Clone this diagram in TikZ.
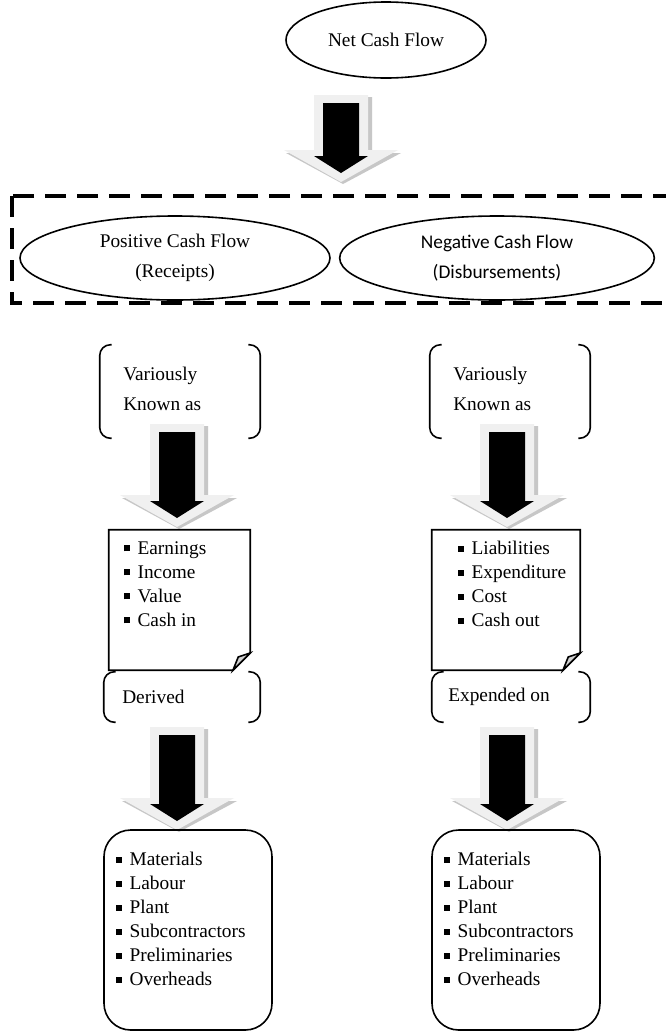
\documentclass[tikz,border=0pt]{standalone}
\usepackage{fontspec}
\setmainfont{Liberation Serif}
\newfontfamily\calfont{Carlito}
\usetikzlibrary{shapes.geometric}
\newcommand{\fs}{\fontsize{14.5}{18}\selectfont}
\newcommand{\bul}{\raisebox{2.2pt}{\rule{4.5pt}{4.5pt}}\hspace{5.5pt}}
\newcommand{\cfarrow}[4]{%
  \coordinate (#4-top) at (#1,#2);
  \coordinate (#4-tip) at (#1,#3);
  \fill[arrshadow] (#1-23,#2+2) -- (#1+31,#2+2) -- (#1+31,#3-29) -- (#1+60,#3-29) -- (#1+2,#3+2) -- (#1-55,#3-29) -- (#1-23,#3-29) -- cycle;
  \fill[arrlight] (#1-27,#2) -- (#1+27,#2) -- (#1+27,#3-32) -- (#1+57,#3-32) -- (#1,#3) -- (#1-57,#3-32) -- (#1-27,#3-32) -- cycle;
  \fill[black] (#1-18,#2+8) -- (#1+18,#2+8) -- (#1+18,#3-26) -- (#1+27,#3-26) -- (#1,#3-9) -- (#1-27,#3-26) -- (#1-18,#3-26) -- cycle;
}
\newcommand{\brk}[1]{%
  \draw[brkline] ([xshift=9pt]#1.north west) -- (#1.north west) -- (#1.south west) -- ([xshift=9pt]#1.south west);
  \draw[brkline] ([xshift=-9pt]#1.north east) -- (#1.north east) -- (#1.south east) -- ([xshift=-9pt]#1.south east);
}
\newcommand{\notebox}[1]{%
  \draw[notel] (#1.north west) -- (#1.north east) -- ([yshift=13pt]#1.south east) -- ([xshift=-13pt]#1.south east) -- (#1.south west) -- cycle;
  \filldraw[notel, fill=gray!35] ([yshift=13pt]#1.south east) -- ([xshift=-9pt,yshift=10pt]#1.south east) -- ([xshift=-13pt]#1.south east) -- cycle;
}
\tikzset{
  arrshadow/.style={fill=black!22},
  arrlight/.style={fill=black!6},
  ell/.style={draw, ellipse, line width=1.2pt, inner sep=0pt, font=\fs, align=center},
  boxarea/.style={rectangle, inner sep=0pt},
  brkline/.style={line width=1.2pt, rounded corners=8pt},
  notel/.style={line width=1.2pt, line join=miter},
  txt/.style={font=\fs, inner sep=0pt, align=left, anchor=west},
  roundbox/.style={draw, rectangle, rounded corners=20pt, line width=1.2pt, inner sep=0pt},
  dashbox/.style={line width=2.4pt, dash pattern=on 16pt off 8pt}
}
\begin{document}
\begin{tikzpicture}[x=0.75pt,y=-0.75pt]
\useasboundingbox (0,0) rectangle (666,1032);
\fill[white] (0,0) rectangle (666,1032);

% top
\node[ell, minimum width=150pt, minimum height=57pt] (net) at (386,40) {Net Cash Flow};
\cfarrow{341}{95}{182}{a1}

% dashed group
\begin{scope}
\clip (0,0) rectangle (666,1032);
\draw[dashbox] (12,196) rectangle (700,303);
\end{scope}
\coordinate (grp) at (12,196);

\node[ell, minimum width=232.5pt, minimum height=63pt] (pos) at (175,258) {Positive Cash Flow\\[5pt](Receipts)};
\node[ell, minimum width=236pt, minimum height=63pt, font=\fs\calfont] (neg) at (497,258) {Negative Cash Flow\\[5pt](Disbursements)};

% variously known as
\node[boxarea, minimum width=120pt, minimum height=69.75pt] (vk1) at (180,391.5) {};
\node[txt] (vk1t) at (123,389) {Variously\\[4pt]Known as};
\brk{vk1}
\node[boxarea, minimum width=120pt, minimum height=69.75pt] (vk2) at (510,391.5) {};
\node[txt] (vk2t) at (453,389) {Variously\\[4pt]Known as};
\brk{vk2}

\cfarrow{177}{424}{527}{a2}
\cfarrow{507}{424}{527}{a3}

% notes
\node[boxarea, minimum width=105.75pt, minimum height=105pt] (n1) at (179.5,600) {};
\notebox{n1}
\node[txt] (n1t) at (124,584) {\bul Earnings\\\bul Income\\\bul Value\\\bul Cash in};
\node[boxarea, minimum width=111pt, minimum height=105pt] (n2) at (506,600) {};
\notebox{n2}
\node[txt] (n2t) at (458,584) {\bul Liabilities\\\bul Expenditure\\\bul Cost\\\bul Cash out};

% derived / expended
\node[boxarea, minimum width=117pt, minimum height=37.5pt] (d1) at (182,697) {};
\brk{d1}
\node[txt] (d1t) at (122,697) {Derived};
\node[boxarea, minimum width=118.5pt, minimum height=37.5pt] (d2) at (511,697) {};
\brk{d2}
\node[txt] (d2t) at (448,697) {Expended on};

\cfarrow{177}{727}{830}{a4}
\cfarrow{507}{727}{830}{a5}

% bottom boxes
\node[roundbox, minimum width=126pt, minimum height=150pt] (m1) at (188,930) {};
\node[txt] (m1t) at (116,919) {\bul Materials\\\bul Labour\\\bul Plant\\\bul Subcontractors\\\bul Preliminaries\\\bul Overheads};
\node[roundbox, minimum width=126pt, minimum height=150pt] (m2) at (516,930) {};
\node[txt] (m2t) at (444,919) {\bul Materials\\\bul Labour\\\bul Plant\\\bul Subcontractors\\\bul Preliminaries\\\bul Overheads};
\end{tikzpicture}
\end{document}
